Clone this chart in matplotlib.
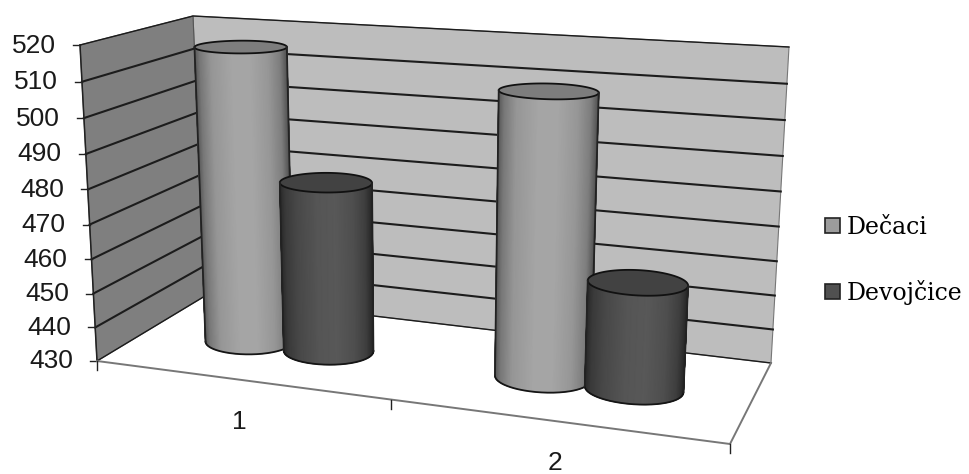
import numpy as np
import matplotlib
matplotlib.use("Agg")
import matplotlib.pyplot as plt
from matplotlib.patches import Polygon, Patch

# ---- data -----
categories = ["1", "2"]
series_names = ["Dečaci", "Devojčice"]
decaci = [517, 510]
devojcice = [480, 460]
value_ticks = [430, 440, 450, 460, 470, 480, 490, 500, 510, 520]

# ---- colours / styles -----
WALL_BACK = "#bdbdbd"
WALL_LEFT = "#7f7f7f"
GRID = "#1c1c1c"
AXIS = "#777777"
TOP_COL = {"Dečaci": "#7d7d7d", "Devojčice": "#424242"}
LEG_COL = {"Dečaci": "#9c9c9c", "Devojčice": "#505050"}
SHADE = {"Dečaci": [85, 120, 150, 165, 165, 150, 125, 85],
         "Devojčice": [40, 58, 72, 85, 88, 78, 62, 40]}
SHADE_POS = [0, .06, .18, .4, .6, .8, .93, 1]

# ---- projection of the 3-D chart box on to the page (pixels) -----
FL, FR, BR, BL = map(np.array, [(97., 361.), (730., 444.), (771., 363.), (205., 296.)])
FLT, FRT, BRT, BLT = map(np.array, [(80., 45.), (748., 85.), (789., 47.), (193., 16.)])
VMIN, VMAX = value_ticks[0], value_ticks[-1]
KU, KZ = 0.155, 0.053


def proj(u, depth, val):
    u = np.asarray(u, float)
    depth = np.asarray(depth, float)
    t = (np.asarray(val, float) - VMIN) / (VMAX - VMIN)
    a = u / (1 + KU * (1 - u))
    z = t / (1 + KZ * (1 - t))
    def bil(p00, p10, p11, p01):
        return ((1 - a)[..., None] * (1 - depth)[..., None] * p00 + a[..., None] * (1 - depth)[..., None] * p10
                + a[..., None] * depth[..., None] * p11 + (1 - a)[..., None] * depth[..., None] * p01)
    lo = bil(FL, FR, BR, BL)
    hi = bil(FLT, FRT, BRT, BLT)
    return lo + z[..., None] * (hi - lo)


W, H = 969, 474
fig = plt.figure(figsize=(W / 100, H / 100), dpi=100)
ax = fig.add_axes([0, 0, 1, 1])
ax.set_xlim(0, W)
ax.set_ylim(H, 0)
ax.axis("off")


def P(*a):
    return proj(*a).tolist()


# walls
ax.add_patch(Polygon([P(0, 1, VMIN), P(1, 1, VMIN), P(1, 1, VMAX), P(0, 1, VMAX)],
                     fc=WALL_BACK, ec=AXIS, lw=0.8, zorder=1))
ax.add_patch(Polygon([P(0, 0, VMIN), P(0, 1, VMIN), P(0, 1, VMAX), P(0, 0, VMAX)],
                     fc=WALL_LEFT, ec="#555555", lw=0.8, zorder=1))

# gridlines
for v in value_ticks:
    pts = np.array([P(0, 0, v), P(0, 1, v), P(1, 1, v)])
    lw = 1.0 if v in (VMIN, VMAX) else 1.5
    ax.plot(pts[:, 0], pts[:, 1], color=GRID, lw=lw, zorder=2, solid_joinstyle="miter")
    # value tick + label
    p = proj(0, 0, v)
    ax.plot([p[0] - 7, p[0]], [p[1], p[1]], color="#222222", lw=1, zorder=2)
    ax.text(p[0] - 24, p[1] + 0.5, str(v), ha="right", va="center", fontsize=19,
            family="Liberation Sans", color="#1a1a1a", zorder=5)

# left axis
pts = np.array([P(0, 0, VMIN), P(0, 0, VMAX)])
ax.plot(pts[:, 0], pts[:, 1], color="#222222", lw=1.1, zorder=3)

# floor edges
pts = np.array([P(0, 0, VMIN), P(1, 0, VMIN), P(1, 1, VMIN)])
ax.plot(pts[:, 0], pts[:, 1], color=AXIS, lw=1.4, zorder=3)

# category ticks + labels
for u in [0, .5, 1]:
    p = proj(u, 0, VMIN)
    ax.plot([p[0], p[0]], [p[1], p[1] + 9], color="#222222", lw=1, zorder=3)
for lab, u in zip(categories, [.25, .75]):
    p = proj(u, 0, VMIN)
    ax.text(p[0] + 1, p[1] + 42, lab, ha="center", va="center", fontsize=19,
            family="Liberation Sans", color="#1a1a1a", zorder=5)

# cylinders
RU, RV = 0.0735, 0.185
CENTER = [0.257, 0.757]
OFFSET = {"Dečaci": -0.072, "Devojčice": 0.07}
phi = np.linspace(0, 2 * np.pi, 361)


def cylinder(uc, val, name, z):
    uu = uc + RU * np.cos(phi)
    dd = 0.5 + RV * np.sin(phi)
    top = proj(uu, dd, np.full_like(uu, val))
    bot = proj(uu, dd, np.full_like(uu, VMIN))
    il, ir = np.argmin(top[:, 0]), np.argmax(top[:, 0])
    # front half runs from the left-most point through the front to the right-most one
    idx = np.arange(il, ir + 361 + 1 if ir <= il else ir + 1) % 360
    t_f, b_f = top[idx], bot[idx]
    X = np.stack([b_f[:, 0], t_f[:, 0]])
    Y = np.stack([b_f[:, 1], t_f[:, 1]])
    frac = (t_f[:, 0] - t_f[0, 0]) / (t_f[-1, 0] - t_f[0, 0])
    c = np.interp(frac, SHADE_POS, SHADE[name])
    ax.pcolormesh(X, Y, np.stack([c, c]), shading="gouraud", cmap="gray", vmin=0, vmax=255, zorder=z)
    ax.add_patch(Polygon(top[:-1], fc=TOP_COL[name], ec="#111111", lw=1.3, zorder=z + .2))
    ax.plot(b_f[:, 0], b_f[:, 1], color="#151515", lw=1.3, zorder=z + .2)
    for i in (0, -1):
        ax.plot([b_f[i, 0], t_f[i, 0]], [b_f[i, 1], t_f[i, 1]], color="#222222", lw=1.3, zorder=z + .2)


for i, c in enumerate(CENTER):
    cylinder(c + OFFSET["Dečaci"], decaci[i], "Dečaci", 4 + i)
    cylinder(c + OFFSET["Devojčice"], devojcice[i], "Devojčice", 4.5 + i)

# legend
handles = [Patch(fc=LEG_COL[n], ec="#222222", lw=1.2, label=n) for n in series_names]
leg = ax.legend(handles=handles, loc="center left", bbox_to_anchor=(825, 260.5),
                bbox_transform=ax.transData, frameon=False, handlelength=0.62, handleheight=0.62,
                handletextpad=0.3, labelspacing=1.74, borderpad=0, borderaxespad=0,
                prop={"family": "DejaVu Serif", "size": 17})
leg.set_zorder(6)

fig.savefig("out.png", dpi=100)
